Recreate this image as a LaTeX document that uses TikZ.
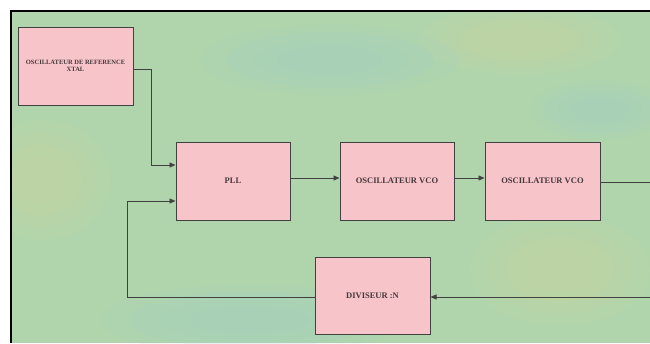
\documentclass[tikz,border=0pt]{standalone}
\usepackage{fontspec}
\setmainfont{Liberation Serif}
\usetikzlibrary{arrows.meta}
\definecolor{bggreen}{RGB}{176,212,172}
\definecolor{bgyellow}{RGB}{206,214,160}
\definecolor{bgblue}{RGB}{160,208,196}
\definecolor{boxpink}{RGB}{246,196,201}
\definecolor{edgegray}{RGB}{65,65,65}
\definecolor{txtgray}{RGB}{70,55,60}
\tikzset{
  blk/.style={draw=edgegray, line width=1pt, fill=boxpink, inner sep=0pt,
    text=txtgray, font=\bfseries\fontsize{8.5}{9}\selectfont, align=center},
  wire/.style={draw=edgegray, line width=0.9pt},
  arr/.style={wire, -{Triangle[length=6pt,width=5pt]}},
  blob/.style={fill=#1, opacity=0.15}
}
\newcommand{\softblob}[4]{%
  \foreach \k in {1.0,0.8,0.6,0.4}{\fill[blob=#1] (#2) ellipse ({#3*\k} and {#4*\k});}}
\begin{document}
\begin{tikzpicture}[x=1pt,y=-1pt]
\useasboundingbox (0,0) rectangle (650,343);
\fill[white] (0,0) rectangle (650,343);
\fill[bggreen] (11,11) rectangle (650,343);
\begin{scope}
\clip (11,11) rectangle (650,343);
\softblob{bgyellow}{40,180}{70}{60}
\softblob{bgyellow}{520,40}{100}{35}
\softblob{bgblue}{330,60}{130}{35}
\softblob{bgblue}{250,320}{150}{35}
\softblob{bgyellow}{560,270}{90}{55}
\softblob{bgblue}{600,110}{70}{30}
\end{scope}
\draw[black, line width=1.2pt] (11,343) -- (11,11) -- (650,11);

\node[blk, minimum width=115pt, minimum height=78pt, font=\bfseries\fontsize{6.5}{7}\selectfont] (xtal) at (75.5,66) {OSCILLATEUR DE REFERENCE\\XTAL};
\node[blk, minimum width=114pt, minimum height=78pt] (pll) at (233,181) {PLL};
\node[blk, minimum width=114pt, minimum height=78pt] (vco1) at (397,181) {OSCILLATEUR VCO};
\node[blk, minimum width=115pt, minimum height=78pt] (vco2) at (542.5,181) {OSCILLATEUR VCO};
\node[blk, minimum width=115pt, minimum height=77pt] (div) at (372.5,296) {DIVISEUR :N};

\coordinate (r1) at (650,182);
\coordinate (r2) at (650,297);

\draw[arr] (xtal.east |- 0,69) -| (151,165) -- (pll.west |- 0,165);
\draw[arr] (pll.east |- 0,178) -- (vco1.west |- 0,178);
\draw[arr] (vco1.east |- 0,178) -- (vco2.west |- 0,178);
\draw[wire] (vco2.east |- r1) -- (r1);
\draw[arr] (r2) -- (div.east |- r2);
\draw[arr] (div.west |- 0,297) -| (127,201) -- (pll.west |- 0,201);
\end{tikzpicture}
\end{document}
